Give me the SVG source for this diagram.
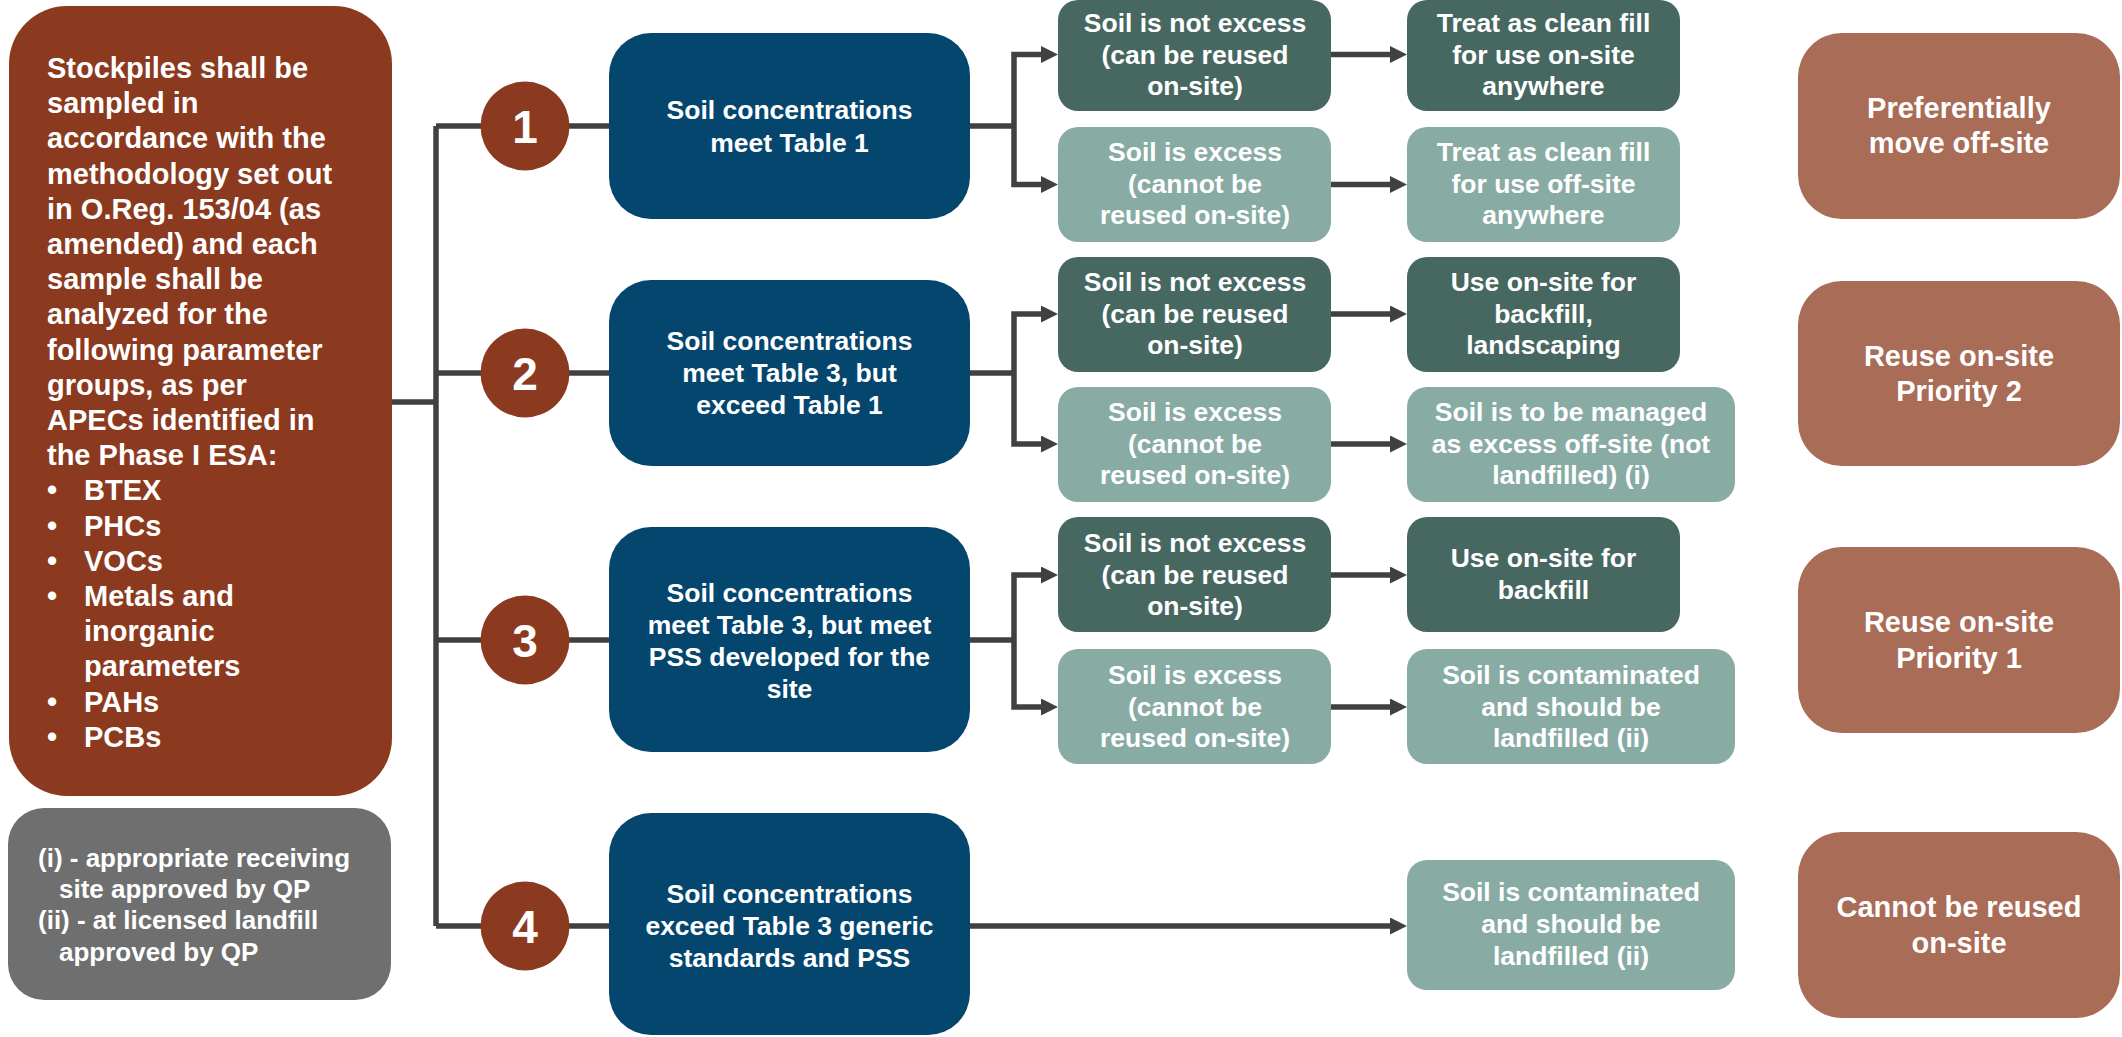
<svg xmlns="http://www.w3.org/2000/svg" width="2122" height="1037" viewBox="0 0 2122 1037">
<style>
text{font-family:"Liberation Sans",Arial,sans-serif;font-weight:bold;fill:#fff}
.c{text-anchor:middle}
.f29{font-size:29px}
.f26{font-size:26.5px}
.fg{font-size:26px}
.num{font-size:46px}
.brown{fill:#8B3A1F}
.grey{fill:#6F6F6F}
.blue{fill:#05466F}
.dk{fill:#476761}
.lt{fill:#88ACA4}
.rb{fill:#A96C57}
.conn path{fill:none;stroke:#404040;stroke-width:5.5}
</style>
<defs>
<marker id="ah" viewBox="0 0 17 17" refX="1" refY="8.5" markerWidth="17" markerHeight="17" markerUnits="userSpaceOnUse" orient="auto">
<path d="M0,0 L17,8.5 L0,17 z" fill="#404040"/>
</marker>
</defs>
<rect width="2122" height="1037" fill="#fff"/>

<g class="conn" id="connectors">
<path d="M392,402 H436"/>
<path d="M436,126 V926"/>
<path d="M436,126 H609"/>
<path d="M436,373 H609"/>
<path d="M436,640 H609"/>
<path d="M436,926 H609"/>
<path d="M970,126 H1014"/>
<path d="M1014,126 V54.5 H1042" marker-end="url(#ah)"/>
<path d="M1014,126 V184.5 H1042" marker-end="url(#ah)"/>
<path d="M970,373 H1014"/>
<path d="M1014,373 V314 H1042" marker-end="url(#ah)"/>
<path d="M1014,373 V444 H1042" marker-end="url(#ah)"/>
<path d="M970,640 H1014"/>
<path d="M1014,640 V575 H1042" marker-end="url(#ah)"/>
<path d="M1014,640 V707 H1042" marker-end="url(#ah)"/>
<path d="M1331,54.5 H1391" marker-end="url(#ah)"/>
<path d="M1331,184.5 H1391" marker-end="url(#ah)"/>
<path d="M1331,314 H1391" marker-end="url(#ah)"/>
<path d="M1331,444 H1391" marker-end="url(#ah)"/>
<path d="M1331,575 H1391" marker-end="url(#ah)"/>
<path d="M1331,707 H1391" marker-end="url(#ah)"/>
<path d="M970,926 H1391" marker-end="url(#ah)"/>
</g>

<g id="intro">
<rect x="9" y="6" width="383" height="790" rx="58" class="brown"/>
<text class="f29">
<tspan x="47" y="78">Stockpiles shall be</tspan>
<tspan x="47" y="113.2">sampled in</tspan>
<tspan x="47" y="148.4">accordance with the</tspan>
<tspan x="47" y="183.6">methodology set out</tspan>
<tspan x="47" y="218.8">in O.Reg. 153/04 (as</tspan>
<tspan x="47" y="254">amended) and each</tspan>
<tspan x="47" y="289.2">sample shall be</tspan>
<tspan x="47" y="324.4">analyzed for the</tspan>
<tspan x="47" y="359.6">following parameter</tspan>
<tspan x="47" y="394.8">groups, as per</tspan>
<tspan x="47" y="430">APECs identified in</tspan>
<tspan x="47" y="465.2">the Phase I ESA:</tspan>
</text>
<text class="f29">
<tspan x="47" y="500.4">•</tspan><tspan x="84" y="500.4">BTEX</tspan>
<tspan x="47" y="535.6">•</tspan><tspan x="84" y="535.6">PHCs</tspan>
<tspan x="47" y="570.8">•</tspan><tspan x="84" y="570.8">VOCs</tspan>
<tspan x="47" y="606">•</tspan><tspan x="84" y="606">Metals and</tspan>
<tspan x="84" y="641.2">inorganic</tspan>
<tspan x="84" y="676.4">parameters</tspan>
<tspan x="47" y="711.6">•</tspan><tspan x="84" y="711.6">PAHs</tspan>
<tspan x="47" y="746.8">•</tspan><tspan x="84" y="746.8">PCBs</tspan>
</text>
</g>

<g id="notes">
<rect x="8" y="808" width="383" height="192" rx="36" class="grey"/>
<text class="fg">
<tspan x="38" y="867">(i) - appropriate receiving</tspan>
<tspan x="59" y="898">site approved by QP</tspan>
<tspan x="38" y="929">(ii) - at licensed landfill</tspan>
<tspan x="59" y="961">approved by QP</tspan>
</text>
</g>

<g id="n1"><circle cx="525" cy="126" r="44.5" class="brown"/><text x="525" y="143" class="c num">1</text></g>
<g id="n2"><circle cx="525" cy="373" r="44.5" class="brown"/><text x="525" y="390" class="c num">2</text></g>
<g id="n3"><circle cx="525" cy="640" r="44.5" class="brown"/><text x="525" y="657" class="c num">3</text></g>
<g id="n4"><circle cx="525" cy="926" r="44.5" class="brown"/><text x="525" y="943" class="c num">4</text></g>

<g id="b1"><rect x="609" y="33" width="361" height="186" rx="42" class="blue"/>
<text class="c f26"><tspan x="789.5" y="119">Soil concentrations</tspan><tspan x="789.5" y="151.5">meet Table 1</tspan></text></g>
<g id="b2"><rect x="609" y="280" width="361" height="186" rx="42" class="blue"/>
<text class="c f26"><tspan x="789.5" y="350">Soil concentrations</tspan><tspan x="789.5" y="382">meet Table 3, but</tspan><tspan x="789.5" y="414">exceed Table 1</tspan></text></g>
<g id="b3"><rect x="609" y="527" width="361" height="225" rx="42" class="blue"/>
<text class="c f26"><tspan x="789.5" y="602">Soil concentrations</tspan><tspan x="789.5" y="634">meet Table 3, but meet</tspan><tspan x="789.5" y="666">PSS developed for the</tspan><tspan x="789.5" y="698">site</tspan></text></g>
<g id="b4"><rect x="609" y="813" width="361" height="222" rx="42" class="blue"/>
<text class="c f26"><tspan x="789.5" y="903">Soil concentrations</tspan><tspan x="789.5" y="935">exceed Table 3 generic</tspan><tspan x="789.5" y="967">standards and PSS</tspan></text></g>

<g id="s1a"><rect x="1058" y="0" width="273" height="111" rx="20" class="dk"/>
<text class="c f26"><tspan x="1195" y="32">Soil is not excess</tspan><tspan x="1195" y="63.5">(can be reused</tspan><tspan x="1195" y="95">on-site)</tspan></text></g>
<g id="s1b"><rect x="1058" y="127" width="273" height="115" rx="20" class="lt"/>
<text class="c f26"><tspan x="1195" y="161">Soil is excess</tspan><tspan x="1195" y="192.5">(cannot be</tspan><tspan x="1195" y="224">reused on-site)</tspan></text></g>
<g id="s2a"><rect x="1058" y="257" width="273" height="115" rx="20" class="dk"/>
<text class="c f26"><tspan x="1195" y="291">Soil is not excess</tspan><tspan x="1195" y="322.5">(can be reused</tspan><tspan x="1195" y="354">on-site)</tspan></text></g>
<g id="s2b"><rect x="1058" y="387" width="273" height="115" rx="20" class="lt"/>
<text class="c f26"><tspan x="1195" y="421">Soil is excess</tspan><tspan x="1195" y="452.5">(cannot be</tspan><tspan x="1195" y="484">reused on-site)</tspan></text></g>
<g id="s3a"><rect x="1058" y="517" width="273" height="115" rx="20" class="dk"/>
<text class="c f26"><tspan x="1195" y="552">Soil is not excess</tspan><tspan x="1195" y="583.5">(can be reused</tspan><tspan x="1195" y="615">on-site)</tspan></text></g>
<g id="s3b"><rect x="1058" y="649" width="273" height="115" rx="20" class="lt"/>
<text class="c f26"><tspan x="1195" y="684">Soil is excess</tspan><tspan x="1195" y="715.5">(cannot be</tspan><tspan x="1195" y="747">reused on-site)</tspan></text></g>

<g id="r1a"><rect x="1407" y="0" width="273" height="111" rx="20" class="dk"/>
<text class="c f26"><tspan x="1543.5" y="32">Treat as clean fill</tspan><tspan x="1543.5" y="63.5">for use on-site</tspan><tspan x="1543.5" y="95">anywhere</tspan></text></g>
<g id="r1b"><rect x="1407" y="127" width="273" height="115" rx="20" class="lt"/>
<text class="c f26"><tspan x="1543.5" y="161">Treat as clean fill</tspan><tspan x="1543.5" y="192.5">for use off-site</tspan><tspan x="1543.5" y="224">anywhere</tspan></text></g>
<g id="r2a"><rect x="1407" y="257" width="273" height="115" rx="20" class="dk"/>
<text class="c f26"><tspan x="1543.5" y="291">Use on-site for</tspan><tspan x="1543.5" y="322.5">backfill,</tspan><tspan x="1543.5" y="354">landscaping</tspan></text></g>
<g id="r2b"><rect x="1407" y="387" width="328" height="115" rx="20" class="lt"/>
<text class="c f26"><tspan x="1571" y="421">Soil is to be managed</tspan><tspan x="1571" y="452.5">as excess off-site (not</tspan><tspan x="1571" y="484">landfilled) (i)</tspan></text></g>
<g id="r3a"><rect x="1407" y="517" width="273" height="115" rx="20" class="dk"/>
<text class="c f26"><tspan x="1543.5" y="567">Use on-site for</tspan><tspan x="1543.5" y="599">backfill</tspan></text></g>
<g id="r3b"><rect x="1407" y="649" width="328" height="115" rx="20" class="lt"/>
<text class="c f26"><tspan x="1571" y="684">Soil is contaminated</tspan><tspan x="1571" y="715.5">and should be</tspan><tspan x="1571" y="747">landfilled (ii)</tspan></text></g>
<g id="r4"><rect x="1407" y="860" width="328" height="130" rx="20" class="lt"/>
<text class="c f26"><tspan x="1571" y="901">Soil is contaminated</tspan><tspan x="1571" y="933">and should be</tspan><tspan x="1571" y="965">landfilled (ii)</tspan></text></g>

<g id="o1"><rect x="1798" y="33" width="322" height="186" rx="44" class="rb"/>
<text class="c f29"><tspan x="1959" y="118">Preferentially</tspan><tspan x="1959" y="153">move off-site</tspan></text></g>
<g id="o2"><rect x="1798" y="281" width="322" height="185" rx="44" class="rb"/>
<text class="c f29"><tspan x="1959" y="366">Reuse on-site</tspan><tspan x="1959" y="401">Priority 2</tspan></text></g>
<g id="o3"><rect x="1798" y="547" width="322" height="186" rx="44" class="rb"/>
<text class="c f29"><tspan x="1959" y="632">Reuse on-site</tspan><tspan x="1959" y="668">Priority 1</tspan></text></g>
<g id="o4"><rect x="1798" y="832" width="322" height="186" rx="44" class="rb"/>
<text class="c f29"><tspan x="1959" y="917">Cannot be reused</tspan><tspan x="1959" y="953">on-site</tspan></text></g>
</svg>
